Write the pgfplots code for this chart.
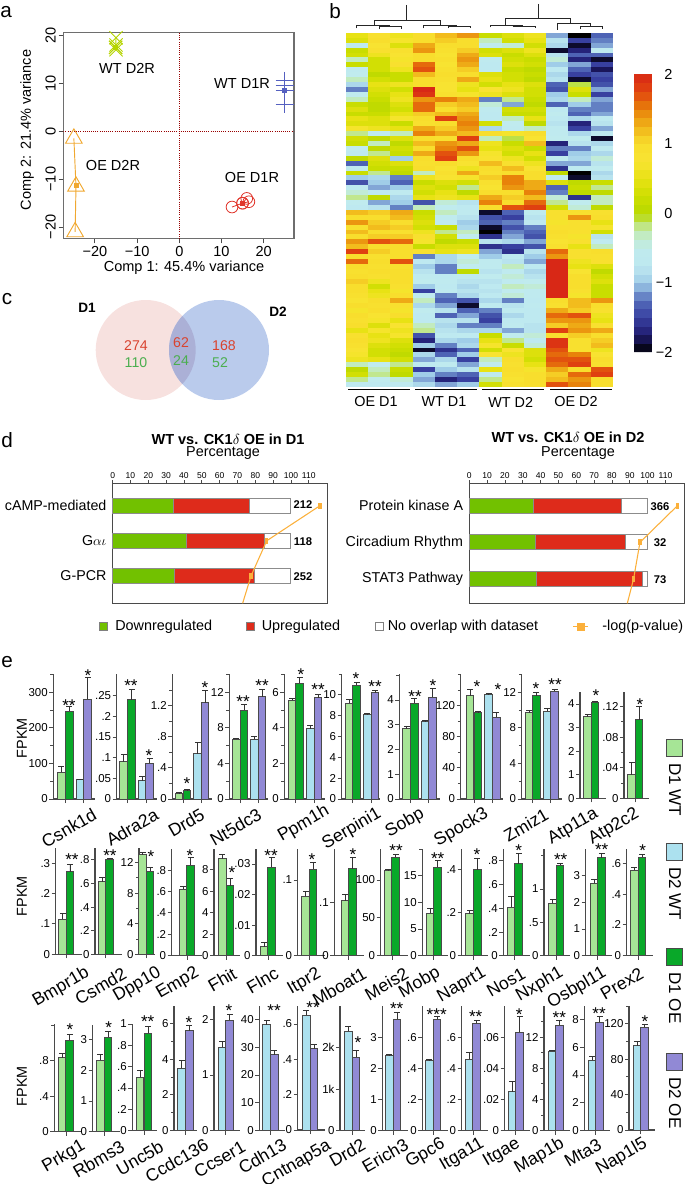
\documentclass[border=0pt]{standalone}
\usepackage{pgfplots}
\pgfplotsset{compat=1.18}
\usepackage{pgfplotstable}
\usepackage{fontspec}
\setmainfont{Liberation Sans}
\newcommand\fs[1]{\fontsize{#1}{#1}\selectfont}
\definecolor{axc}{HTML}{4A4A4A}
\definecolor{lg}{HTML}{A6E596}
\definecolor{dg}{HTML}{09A829}
\definecolor{lb}{HTML}{ACE1EF}
\definecolor{pu}{HTML}{9189D5}
\definecolor{pgreen}{HTML}{72C100}
\definecolor{pred}{HTML}{DE2B1B}
\definecolor{porange}{HTML}{FBB03B}
\definecolor{pcagreen}{HTML}{B5D400}
\definecolor{pcablue}{HTML}{5560C0}
\definecolor{pcared}{HTML}{E0352B}
\definecolor{pcaorange}{HTML}{F0A830}
\definecolor{vpink}{HTML}{F7E1DF}
\definecolor{vblue}{HTML}{BACBEC}
\definecolor{vmix}{HTML}{ABB0D6}
\definecolor{vred}{HTML}{D9432F}
\definecolor{vgreen}{HTML}{4BAE4F}
\pgfplotsset{colormap={heat}{
 rgb255=(0,0,0) rgb255=(32,28,112) rgb255=(56,64,160) rgb255=(84,108,186)
 rgb255=(160,205,232) rgb255=(190,232,240) rgb255=(192,235,238) rgb255=(195,235,180)
 rgb255=(184,216,0) rgb255=(205,222,0) rgb255=(232,226,20) rgb255=(248,228,50)
 rgb255=(248,222,45) rgb255=(240,180,25) rgb255=(232,130,10) rgb255=(225,70,15)
 rgb255=(216,40,22)}}
\pgfdeclareplotmark{cell}{\pgfpathrectangle{\pgfqpoint{-8.45pt}{-1.95pt}}{\pgfqpoint{16.9pt}{3.9pt}}\pgfusepathqfill}
\pgfdeclareplotmark{pv}{\pgfpathrectangle{\pgfqpoint{-1.3pt}{-2.3pt}}{\pgfqpoint{2.6pt}{4.6pt}}\pgfusepathqfill}

% rows top to bottom, columns OE D1, WT D1, WT D2, OE D2
\pgfplotstableread{
c0 c1 c2 c3 c4 c5 c6 c7 c8 c9 c10 c11
.5 .9 .6 1 1.2 1.4 .2 .4 .6 -1.1 -2 -1.3
.4 1 .7 1 1.1 1 -.3 .3 .5 -.8 -1.5 -1.2
-.7 .8 .4 1.3 1 1 -.6 -.4 .3 -.9 -1.9 -1.1
.2 .9 .9 1.4 .9 1.1 .3 .4 .6 -1.9 -1.7 -.6
.3 .6 .8 1 .8 1.3 .4 .2 .4 -.8 -1.3 -1.3
-.3 .3 .7 1 .9 1.4 -.6 .3 .2 -.4 -1.7 -1.9
.2 .3 .9 1.6 .8 1.3 -.7 .4 .3 -1 -1.1 -1.5
-.6 .3 .6 1.7 .9 1.1 -.7 .2 .1 -.7 -1.3 -1.8
-.5 .1 .2 1.2 1 1 .4 .3 .2 -.9 -1.5 -1.4
-.3 .3 .2 1 .9 1.3 .5 .3 .1 -.8 -1.9 -1.5
-.9 .5 .6 1 .8 .6 .3 .5 .4 -1.3 -.1 -1.4
-1.2 .4 .3 2 .8 .5 .8 .6 .3 -1.4 .4 -1.1
-.5 .3 .5 1.9 .9 .7 .6 .4 .3 -1 .2 -1.5
-.3 .2 .6 1.4 1.5 1.3 -1.2 -.2 .2 -.9 -.3 -1.1
.2 .1 .4 1.6 1.1 1.2 -.4 -1.1 .1 -1.3 -1 -1.2
.4 .1 .3 1.6 1 1.1 -.6 .3 .3 -.7 -1.2 -1.2
.2 .2 .5 1.1 1.2 1.3 -.7 .2 .2 -.5 -1.3 -1.1
.5 .4 .7 1 1.8 1.4 -.7 -.3 .5 -.7 -.9 -.7
.4 .4 .2 .9 1 1.5 .3 -.5 .1 -.8 -1.7 -.8
.7 .6 .5 1.3 1.1 1.4 -.9 -.6 -.3 -.6 -1.5 -1.1
-.2 -.6 -.3 1.5 1.3 1.2 1 .7 1 -.6 -.9 -.7
.3 .1 .4 1 .9 1.8 -.3 -.1 .8 -.5 -.5 -1.9
.2 -.3 .1 1.2 1.4 1.3 .6 .2 1.2 -1.7 -.8 -.9
-.5 .1 .3 1 1.5 1.7 .5 .4 .2 -1.2 -1.2 -.6
-.7 -.2 .2 1.3 1.7 1.4 .7 .3 .5 -1.5 -1 -.9
.1 .4 -1 1 1.8 1 .8 .6 .3 -.5 -.9 -.4
-1.3 .3 .4 .9 1 .8 1.2 .9 .6 -1.1 -1.1 -.8
-.6 .2 .2 1 .8 .6 1 1.2 .8 -1.6 -.6 -.5
.2 -.2 .1 -.3 .9 1.3 .9 1 1 .1 -2 -.9
-1 -.9 -1.2 .6 .8 .7 1.1 1.5 1 -.6 -1.9 -.8
-1.4 -1 -1.3 .2 .4 .3 .9 1.5 1.3 .4 .1 .2
-.7 -1.1 -1 .4 .3 -.2 .8 1.4 1.3 -1.3 .2 -.2
-.4 -.7 -.6 .3 .5 .1 1 1 1.5 -1.2 .1 .1
-.2 .1 -.9 .5 .6 .5 1.3 1.1 1.2 -.4 -1.6 -.3
-.5 -1.1 -1 -1.4 -.4 -.8 1.5 1 1.6 -.2 -.5 -.3
-.7 -.8 -1.2 -.3 -.5 -.7 1 1.7 1.8 .3 -.4 .1
1.2 1.1 1.3 .2 -.3 -.6 -1.9 -1.3 -.6 .9 .9 .9
1 1 1.2 .3 -.5 -.8 -1.4 -1.5 -.8 .9 1.4 1
1.4 1.1 1 .4 -.6 -1 -1.3 -1.2 -.7 .7 .9 .5
.9 1.2 1.1 .3 .2 -.9 -1.9 -1.4 -1.2 .9 .9 .7
1.2 1 .9 .6 -.2 -.3 -2 -1.2 -1.3 1 .9 .3
1 1.1 1.1 .9 .3 -.5 -1.6 -1.1 -1.4 .9 .7 -.8
1.4 1.7 1.6 .7 .1 .2 -.8 -.9 -1.1 .8 .9 -.6
1.2 1 1 .2 .4 .4 -1.6 -1.5 -1.4 .9 .5 -.3
1.8 1.1 1 .9 .5 .6 -1.1 -1.6 -.8 1.6 .9 1
1 .9 1 -1.2 -.9 -.5 -1 -.7 -1 1.4 .9 .9
1.6 1 1.7 -.7 -.9 -.4 -.6 -.8 -1.1 2 .6 .9
1 .9 .9 -1 -1.2 -.5 -.6 -.3 -.7 2 .5 .4
.9 1 1 -.8 -1.2 .1 -.8 -.6 -.9 2 .8 .1
1 .9 1 -.6 -.7 -.7 -.5 -.4 -.8 2 1 .3
1.1 .6 1 -.5 -.6 -.8 -.8 -.6 -.5 2 1 .4
1 .3 .9 -1 -.7 -.9 -.7 -.3 -.4 2 1 .2
1 .5 .7 -1.5 -.6 -.8 -.8 -.5 -.6 2 .9 .2
.9 .6 1 -.6 -1.2 -.9 -.7 -.4 -.6 2 .7 .2
.8 1 1.3 -.3 -1.3 -1.4 -.9 -1.2 -.7 1 1.2 1.4
1 .9 .9 -.9 -1.1 -1.9 -.6 -.8 -.6 .9 1.2 1
.7 1 .7 -.5 -.8 -1.3 -1.2 -.6 -.7 1.3 1.1 .9
1 .8 1 -.7 -1.3 -1.1 -1.4 -.9 -.7 1.6 1.7 .6
.9 .7 .5 -.7 -.8 -.8 -1.5 -.7 -.7 1.4 1.4 .5
1 .4 .8 -.3 -.9 -1.2 -1.2 -.6 -.8 1.1 1.3 .9
.5 .7 .6 -.2 -.8 -.9 -.9 -1.1 -.8 1.8 1.4 1.3
.9 .5 .7 -1.4 -.7 -.6 .2 -.5 -.4 .9 1.1 1
1 .6 .4 -1.7 -.9 -1 .5 -.2 -.7 1.9 .9 1.1
.9 .4 .3 -1 -1.2 -.9 .7 .2 -.4 1.9 .9 1.2
.8 .3 .2 -1.9 -1.6 -1.3 .3 .8 .4 1.7 .9 .6
.7 .3 .1 -.9 -1.3 -1 .8 .6 .4 1.6 1.5 .8
.6 .5 .3 -1.1 -.9 -1.5 -.3 1 .3 1.7 1.7 1
-.3 -.5 -.2 -.7 -.6 -1.1 -.6 .9 .5 1.6 1.8 .9
.1 -.3 .2 -1.5 -1 -.8 .5 1 .7 1.3 1 1.7
.3 -.2 .1 -1 -1.2 -1.3 -.7 .9 1 1.1 1.6 1.8
-.2 -.5 -.4 -1.1 -1.7 -1.5 -.2 .8 1 1.2 1.4 1
-.7 -.7 -.7 -.9 -1.1 -1 .3 .9 1 1.7 1.5 1
}\heat

\pgfplotsset{
 pathway/.style={scale only axis,width=161.25pt,height=90pt,xmin=0,xmax=120.6,
  y dir=reverse,clip=false,xtick={0,10,...,110},xtick pos=upper,xticklabel pos=upper,
  ytick={0,1,2},ytick style={draw=none},tick align=outside,
  major tick length=2.5pt,tick style={axc,line width=.6pt},axis line style={axc,line width=.9pt},
  x tick label style={font=\fs{6.4},inner sep=1pt},y tick label style={font=\fs{10.7},inner sep=2pt},
  /pgf/number format/assume math mode=true},
 gene/.style={scale only axis,axis x line=bottom,axis y line=left,
  axis line style={-,draw=axc,line width=.9pt},xticklabels={},ymin=0,clip=false,
  tick align=outside,major tick length=3pt,minor tick length=2.2pt,tick style={axc,line width=.7pt},
  scaled y ticks=false,y tick label style={font=\fs{8.6},inner sep=1pt},
  /pgf/number format/fixed,/pgf/number format/precision=3,/pgf/number format/skip 0.=true,
  /pgf/number format/assume math mode=true},
 gbar/.style={ybar,bar shift=0pt,bar width=5.8pt,draw=axc,line width=.7pt,forget plot,
  error bars/y dir=plus,error bars/y explicit,error bars/error bar style={black!80,line width=.7pt},
  error bars/error mark options={rotate=90,mark size=2.2pt,line width=.7pt,black!80}}
}
% x0 x1 top base in page pixels, then ymax, major ticks, bars
\newcommand\gene[8][]{%
 \pgfmathsetmacro\gw{(#3-#2)*.75}\pgfmathsetmacro\gh{(#5-#4)*.75}%
 \pgfmathsetmacro\gx{#2*.75}\pgfmathsetmacro\gy{-#5*.75}%
 \begin{axis}[gene,at={(\gx pt,\gy pt)},anchor=south west,width=\gw pt,height=\gh pt,
  xmin=#2,xmax=#3,ymax=#6,ytick={#7},#1]
 #8
 \end{axis}}
\newcommand\B[4]{\addplot[fill=#1,gbar] coordinates {(#2,#3) +- (0,#4)};}

\begin{document}
\begin{tikzpicture}[x=.75pt,y=-.75pt]
% ---------- panel letters
\foreach \x/\y/\t in {6/12/a,335/11/b,7/299/c,7/440/d,7/662/e}
  \node[font=\fs{15.5},inner sep=0] at (\x,\y) {\t};

% ---------- a
\begin{axis}[at={(47.5pt,-179pt)},anchor=south west,scale only axis,width=173pt,height=154.8pt,
  xmin=-27.5,xmax=27.2,ymin=-22.4,ymax=20.65,xtick={-20,-10,0,10,20},ytick={-20,-10,0,10,20},
  xticklabels={−20,−10,0,10,20},yticklabels={−20,−10,0,10,20},
  xtick pos=bottom,ytick pos=left,tick align=outside,major tick length=3.5pt,
  tick style={axc,line width=.7pt},axis line style={axc!80,line width=1.1pt},
  tick label style={font=\fs{10.9}},y tick label style={rotate=90,anchor=south,inner sep=2pt},
  x tick label style={inner sep=2pt}]
 \addplot[red!60!black,densely dotted,line width=.6pt] coordinates {(-27.5,0)(27.2,0)};
 \addplot[red!60!black,densely dotted,line width=.6pt] coordinates {(0,-22.4)(0,20.65)};
 \addplot[pcagreen,line width=.7pt,mark=x,mark size=7pt] coordinates {(-15,19.5)(-15.1,17.5)(-15,18)(-15.1,17.5)(-15,17)};
 \addplot[pcagreen,only marks,mark=square*,mark size=1.5pt] coordinates {(-15.1,17.5)};
 \addplot[pcablue,line width=.7pt,mark=+,mark size=6.8pt] coordinates {(25,10.5)(25,9.5)(25,8.5)(25,5.6)};
 \addplot[pcablue,only marks,mark=square*,mark size=1.5pt] coordinates {(25,8.5)};
 \addplot[pcaorange,line width=.7pt,mark=triangle,mark size=7.2pt] coordinates {(-25,-1.5)(-24.5,-11.5)(-24.7,-21)};
 \addplot[pcaorange,only marks,mark=square*,mark size=1.5pt] coordinates {(-24.5,-11.3)};
 \addplot[pcared,line width=.6pt,mark=o,mark size=4.4pt] coordinates {(12.5,-15.8)(15,-15)(16,-14)(15,-15)(16.5,-14.7)};
 \addplot[pcared,only marks,mark=square*,mark size=1.5pt] coordinates {(15,-15)};
\end{axis}
\begin{scope}[font=\fs{10.9},inner sep=0]
 \node at (127,68) {WT D2R};
 \node at (242,84) {WT D1R};
 \node at (113,165) {OE D2R};
 \node at (252,177) {OE D1R};
 \node at (184,268) {Comp 1: 45.4\% variance};
 \node[rotate=90] at (27,130) {Comp 2: 21.4\% variance};
\end{scope}

% ---------- b
\begin{axis}[at={(259.5pt,-290.25pt)},anchor=south west,scale only axis,width=200.25pt,height=265.5pt,
  xmin=-.5,xmax=11.5,ymin=-.5,ymax=71.5,y dir=reverse,ticks=none,axis line style={draw=none},
  colormap name=heat,point meta min=-2,point meta max=2,colorbar,colorbar sampled,
  colorbar style={samples=33,at={(1.0787,.884)},anchor=north west,width=14pt,height=208.5pt,
   ytick={-2,-1,0,1,2},yticklabels={−2,−1,0,1,2},axis line style={draw=none},major tick length=0pt,
   y tick label style={font=\fs{10.9},anchor=east,xshift=15pt,inner sep=0}}]
 \pgfplotsinvokeforeach{0,...,11}{
  \addplot[scatter,only marks,mark=cell,scatter/use mapped color={fill=mapped color},
   point meta=explicit] table[x expr=#1,y expr=\coordindex,meta=c#1] {\heat};}
\end{axis}
\begin{scope}[xshift=240pt,x=.25pt,y=-.25pt,line width=.6pt,black!85]
 \draw (260,15)--(260,60) (162,75)--(162,60)--(362,60)--(362,75);
 \draw (110,85)--(110,75)--(210,75) (178,88)--(178,80)--(245,80)--(245,88);
 \draw (310,85)--(310,75)--(410,75) (385,85)--(385,78)--(450,78)--(450,85);
 \draw (655,12)--(655,55) (557,75)--(557,55)--(752,55)--(752,70);
 \draw (510,82)--(510,75)--(610,75) (578,78)--(645,78)--(645,85);
 \draw (712,90)--(712,70)--(810,70)--(810,78) (780,88)--(780,78)--(848,78)--(848,88);
 \foreach \a/\b/\c/\t in {85/270/168/OE D1,285/470/372/WT D1,487/673/572/WT D2,690/875/768/OE D2}{
  \draw[line width=1.1pt,black] (\a,1168)--(\b,1168);
  \node[font=\fs{10.8},inner sep=0,black] at (\c,1206) {\t};}
\end{scope}

% ---------- c
\fill[vpink] (145.7,350) circle (37.5pt);
\fill[vblue] (219,350) circle (37.5pt);
\begin{scope}
 \clip (145.7,350) circle (37.5pt);
 \fill[vmix] (219,350) circle (37.5pt);
\end{scope}
\begin{scope}[inner sep=0,font=\fs{10.6}]
 \node[font=\fs{10.2}\bfseries] at (87,308) {D1};
 \node[font=\fs{10.2}\bfseries] at (278,312) {D2};
 \node[vred] at (136,346) {274};
 \node[vgreen] at (136,363) {110};
 \node[vred] at (181,343) {62};
 \node[vgreen] at (181,361) {24};
 \node[vred] at (224,346) {168};
 \node[vgreen] at (220,363) {52};
\end{scope}

% ---------- d
\begin{axis}[pathway,at={(84.5pt,-452.5pt)},anchor=south west,ymin=-.635,ymax=2.78,
  yticklabels={cAMP-mediated,G{\fs{10}$\alpha\iota$},G-PCR},
  xbar stacked,bar width=11.25pt]
 \addplot[fill=pgreen,draw=black!45,line width=.7pt] coordinates {(34,0)(41.3,1)(34.8,2)};
 \addplot[fill=pred,draw=black!45,line width=.7pt] coordinates {(42.6,0)(44.1,1)(45,2)};
 \addplot[fill=white,draw=black!45,line width=.7pt] coordinates {(23.4,0)(14.6,1)(20.2,2)};
\end{axis}
\begin{axis}[scale only axis,width=161.25pt,height=90pt,at={(84.5pt,-452.5pt)},anchor=south west,
  hide axis,xmin=0,xmax=120.6,ymin=-.635,ymax=2.78,y dir=reverse]
 \addplot[porange,line width=.8pt] coordinates {(116.3,0)(86.4,1)(77.6,2)(72.9,2.78)};
 \addplot[porange,only marks,mark=pv] coordinates {(116.3,0)(86.4,1)(77.6,2)};
\end{axis}
\begin{axis}[pathway,at={(352pt,-452.5pt)},anchor=south west,ymin=-.61,ymax=2.66,
  yticklabels={Protein kinase A,Circadium Rhythm,STAT3 Pathway},
  xbar stacked,bar width=11.25pt]
 \addplot[fill=pgreen,draw=black!45,line width=.7pt] coordinates {(36.1,0)(37.1,1)(37.8,2)};
 \addplot[fill=pred,draw=black!45,line width=.7pt] coordinates {(49.5,0)(50.5,1)(59.4,2)};
 \addplot[fill=white,draw=black!45,line width=.7pt] coordinates {(14.4,0)(12.4,1)(2.8,2)};
\end{axis}
\begin{axis}[scale only axis,width=161.25pt,height=90pt,at={(352pt,-452.5pt)},anchor=south west,
  hide axis,xmin=0,xmax=120.6,ymin=-.61,ymax=2.66,y dir=reverse]
 \addplot[porange,line width=.8pt] coordinates {(116.7,0)(95.7,1)(92.1,2)(88.6,2.66)};
 \addplot[porange,only marks,mark=pv] coordinates {(116.7,0)(95.7,1)(92.1,2)};
\end{axis}
\begin{scope}[inner sep=0]
 \foreach \x/\y/\t in {303/505/212,303/542/118,303/577/252,660/507/366,660/543/32,660/580/73}
  \node[font=\fs{8.4}\bfseries] at (\x,\y) {\t};
 \node[font=\fs{10.9}\bfseries] at (228,439) {WT vs. CK1$\delta$ OE in D1};
 \node[font=\fs{10.8}] at (223,453) {Percentage};
 \node[font=\fs{10.9}\bfseries] at (568,437) {WT vs. CK1$\delta$ OE in D2};
 \node[font=\fs{10.8}] at (578,453) {Percentage};
 \begin{scope}[font=\fs{10.8}]
  \draw[black!50,fill=pgreen,line width=.5pt] (99.5,622.5) rectangle (107,630.5);
  \node[anchor=west] at (115,626.7) {Downregulated};
  \draw[black!50,fill=pred,line width=.5pt] (246,622.5) rectangle (254,630.5);
  \node[anchor=west] at (261.5,626.7) {Upregulated};
  \draw[black!50,fill=white,line width=.5pt] (375,622.5) rectangle (383,630.5);
  \node[anchor=west] at (387.5,626.7) {No overlap with dataset};
  \draw[porange,line width=.8pt] (573,626.7)--(588,626.7);
  \fill[porange] (577,623) rectangle (585,630.5);
  \node[anchor=west] at (602,626.7) {-log(p-value)};
 \end{scope}
\end{scope}

% ---------- e, first row
\gene[xtick={65.2,83.9},minor ytick={50,150,250,350}]{53.3}{95}{674}{799}{351.6}{0,100,200,300}{\B{lg}{61.2}{75}{16}\B{dg}{69.2}{247}{12}\B{lb}{80}{55}{0}\B{pu}{87.8}{280}{62}}
\gene[xtick={127.7,146}]{116.7}{156.7}{674}{799}{.3024}{0,.05,.1,.15,.2,.25}{\B{lg}{123.7}{.09}{.018}\B{dg}{131.7}{.24}{.025}\B{lb}{142.3}{.044}{.01}\B{pu}{149.7}{.087}{.011}}
\gene[xtick={183,201.3},minor ytick={.2,.6,1,1.4}]{172.3}{211.7}{674}{799}{1.607}{0,.4,.8,1.2}{\B{lg}{179}{.065}{.015}\B{dg}{187}{.116}{.004}\B{lb}{197.7}{.58}{.15}\B{pu}{205}{1.24}{.15}}
\gene[xtick={240.2,258.2},minor ytick={2,6,10,14}]{229.3}{268}{674}{799}{14.06}{0,4,8,12}{\B{lg}{236.3}{6.7}{.15}\B{dg}{244}{10}{.65}\B{lb}{254.3}{6.7}{.3}\B{pu}{262}{11.5}{.85}}
\gene[xtick={295.8,314.2},minor ytick={1,3,5,7}]{284.3}{325}{674}{799}{7.03}{0,2,4,6}{\B{lg}{292}{5.55}{.11}\B{dg}{299.7}{6.5}{.33}\B{lb}{310.3}{3.95}{.2}\B{pu}{318}{5.7}{.2}}
\gene[xtick={352.8,371.2},minor ytick={12}]{341.7}{380}{674}{799}{12}{0,2,4,6,8,10}{\B{lg}{349}{9.2}{.4}\B{dg}{356.7}{10.9}{.3}\B{lb}{367.3}{8.1}{.15}\B{pu}{375}{10.2}{.25}}
\gene[xtick={410.5,428.8},minor ytick={5}]{399.3}{440}{674}{799}{5.05}{0,1,2,3,4}{\B{lg}{406.7}{2.83}{.12}\B{dg}{414.3}{3.88}{.19}\B{lb}{425}{3.12}{.05}\B{pu}{432.7}{4.12}{.35}}
\gene[xtick={474,492.5},minor ytick={20,60,100,140,160}]{460.7}{503}{674}{799}{160.7}{0,40,80,120}{\B{lg}{470}{133}{8}\B{dg}{478}{111}{1.7}\B{lb}{488.7}{134}{1.5}\B{pu}{496.3}{105}{6}}
\gene[xtick={532.7,550.8},minor ytick={2,6,10,14}]{521.7}{562}{674}{799}{14.06}{0,4,8,12}{\B{lg}{529}{9.7}{.3}\B{dg}{536.3}{11.6}{.35}\B{lb}{547}{9.9}{.3}\B{pu}{554.7}{12.15}{.2}}
\gene[xtick={591.3}]{580}{606}{691.7}{798.3}{4.52}{0,1,2,3,4}{\B{lg}{587.7}{3.45}{.12}\B{dg}{595}{4.08}{.04}}
\gene[xtick={635.3},minor ytick={.02,.06,.1}]{624}{649}{691.7}{798.3}{.1396}{0,.04,.08,.12}{\B{lg}{631.7}{.031}{.0157}\B{dg}{639}{.103}{.017}}
% second row
\gene[xtick={66.3}]{55.7}{81.7}{848.3}{954.3}{.349}{0,.1,.2,.3}{\B{lg}{62.7}{.115}{.02}\B{dg}{70}{.272}{.025}}
\gene[xtick={105.8}]{95}{121.7}{848.3}{954.3}{.898}{0,.2,.4,.6,.8}{\B{lg}{102}{.615}{.04}\B{dg}{109.7}{.805}{.01}}
\gene[xtick={146.3},minor ytick={2,6,10}]{139}{155}{848.3}{954.3}{13.87}{0,4,8,12}{\B{lg}{142.7}{13}{.35}\B{dg}{150}{10.9}{.5}}
\gene[xtick={187},minor ytick={1}]{171.7}{201.7}{849}{955.7}{.997}{0,.2,.4,.6,.8}{\B{lg}{183.3}{.62}{.03}\B{dg}{190.7}{.845}{.07}}
\gene[xtick={226.2}]{214}{240}{849}{955.7}{9.92}{0,2,4,6,8}{\B{lg}{222.3}{9}{.4}\B{dg}{230}{6.5}{.7}}
\gene[xtick={268}]{256}{283.3}{849}{955.7}{.0349}{0,.01,.02,.03}{\B{lg}{264.3}{.003}{.0014}\B{dg}{271.7}{.029}{.003}}
\gene[xtick={309.3}]{297.7}{325}{849}{955.7}{.141}{0,.1}{\B{lg}{305.7}{.0785}{.006}\B{dg}{313}{.114}{.009}}
\gene[xtick={348.8}]{334.3}{364}{849}{955.7}{.2}{0,.1}{\B{lg}{345}{.103}{.011}\B{dg}{352.7}{.163}{.021}}
\gene[xtick={392}]{380.7}{408}{849}{955.7}{141}{0,50,100}{\B{lg}{388.3}{112}{1.6}\B{dg}{395.7}{130}{3.6}}
\gene[xtick={433.8},minor ytick={20}]{422.3}{448}{849}{955.7}{20}{0,5,10,15}{\B{lg}{430}{8}{.9}\B{dg}{437.7}{16.6}{1.2}}
\gene[xtick={473.5}]{461.7}{488}{849}{955.7}{.496}{0,.2,.4}{\B{lg}{469.7}{.195}{.013}\B{dg}{477.3}{.4}{.054}}
\gene[xtick={514.8}]{503.3}{530}{849}{955.7}{.9}{0,.2,.4,.6,.8}{\B{lg}{511}{.41}{.09}\B{dg}{518.7}{.775}{.09}}
\gene[xtick={556.3},minor ytick={1.5}]{544}{570}{849}{955.7}{1.6}{0,.5,1}{\B{lg}{552.7}{.785}{.06}\B{dg}{560}{1.36}{.025}}
\gene[xtick={597.8}]{585.7}{611.7}{849}{955.7}{4}{0,1,2,3}{\B{lg}{594}{2.72}{.12}\B{dg}{601.7}{3.68}{.16}}
\gene[xtick={638.2}]{626.7}{652.7}{849}{955.7}{.693}{0,.2,.4,.6}{\B{lg}{634.3}{.555}{.02}\B{dg}{642}{.64}{.017}}
% third row
\gene[xtick={66},minor ytick={1.2}]{54.3}{81.7}{1024.3}{1131.7}{1.21}{0,.4,.8}{\B{lg}{62.3}{.835}{.05}\B{dg}{69.7}{1.03}{.07}}
\gene[xtick={104.2}]{92.7}{120}{1025}{1131.7}{3.48}{0,1,2,3}{\B{lg}{100.3}{2.33}{.18}\B{dg}{108}{3.08}{.2}}
\gene[xtick={144}]{132.3}{156.7}{1024}{1130.7}{1}{0,.2,.4,.6,.8,1}{\B{lg}{140}{.5}{.06}\B{dg}{148}{.915}{.065}}
\gene[xtick={185.5},minor ytick={1,3,5}]{174}{196.7}{1006}{1130.7}{6.97}{0,2,4,6}{\B{lb}{181.7}{3.5}{.42}\B{pu}{189.3}{5.6}{.3}}
\gene[xtick={225.8}]{214}{240}{1006}{1130.7}{2.24}{0,1,2}{\B{lb}{222}{1.5}{.1}\B{pu}{229.7}{1.98}{.1}}
\gene[xtick={270.5}]{259.3}{285}{1006}{1130.7}{44.8}{0,10,20,30,40}{\B{lb}{266.7}{38}{1.5}\B{pu}{274.3}{27.3}{1.5}}
\gene[xtick={310.2}]{297.7}{325}{1006}{1130}{.702}{0,.2,.4,.6}{\B{lb}{306.3}{.65}{.025}\B{pu}{314}{.46}{.025}}
\gene[xtick={352.2},yticklabels={0,1k,2k},minor ytick={3}]{340}{365}{1006}{1130.7}{2.99}{0,1,2}{\B{lb}{348.3}{2.39}{.11}\B{pu}{356}{1.76}{.17}}
\gene[xtick={393.2}]{382.3}{408}{1006}{1130.7}{4}{0,1,2,3}{\B{lb}{389.3}{2.4}{.05}\B{pu}{397}{3.57}{.23}}
\gene[xtick={433.2}]{422.3}{448}{1006}{1130.7}{.8}{0,.2,.4,.6}{\B{lb}{429.3}{.45}{.01}\B{pu}{437}{.715}{.02}}
\gene[xtick={473}]{461.7}{488}{1006}{1130.7}{.8}{0,.2,.4,.6}{\B{lb}{469.3}{.46}{.04}\B{pu}{476.7}{.69}{.02}}
\gene[xtick={515.8}]{504.7}{530}{1006}{1130.7}{.08}{0,.02,.04,.06}{\B{lb}{512}{.025}{.0067}\B{pu}{519.7}{.0632}{.0103}}
\gene[xtick={555.7},minor ytick={2,6,10,14}]{544}{570}{1006}{1130.7}{16}{0,4,8,12}{\B{lb}{552}{10.2}{.15}\B{pu}{559.3}{13.5}{.6}}
\gene[xtick={595.8}]{584.3}{610}{1006}{1130.7}{8.96}{0,2,4,6,8}{\B{lb}{592}{5.05}{.3}\B{pu}{599.7}{7.8}{.4}}
\gene[xtick={640.8},minor ytick={20,60,100,140}]{629}{655}{1006}{1130}{140}{0,40,80,120}{\B{lb}{637}{95}{5}\B{pu}{644.7}{116}{3.5}}

\foreach \x/\y/\t in {69/703/**,88/673/*,131/683/**,149/753/*,187/781/*,205/685/*,243/699/**,262/683/**,
 301/672/*,318/687/**,356/676/*,375/684/**,415/694/**,433/683/*,477/684/*,498/687/*,536/686/*,555/682/**,596/693/*,640/702/*,
 72/857/**,110/853/**,151/854/*,190/853/*,232/870/*,271/853/**,312/857/*,353/852/*,396/848/**,437.7/856/**,477/852/*,518.7/848/*,560.7/857/**,601.7/847/**,642.7/848/*,
 70/1027/*,108.7/1025/*,147.7/1019/**,189/1020/*,229/1008/*,274/1008/**,313/1005/**,358/1040/*,396.7/1006/**,436.7/1012/***,475.7/1014/**,519.3/1012/*,559.3/1015/**,599/1011/**,645/1019/*}
 \node[anchor=base,font=\fs{12.8},inner sep=0] at (\x,\y+8) {\t};
\foreach \x/\y/\t in {95/813/Csnk1d,157/813/Adra2a,203/813/Drd5,260/813/Nt5dc3,328/810/Ppm1h,380/813/Serpini1,423/813/Sobp,487/813/Spock3,547/813/Zmiz1,597/813/Atp11a,638/813/Atp2c2,
 88/972/Bmpr1b,125/972/Csmd2,160/972/Dpp10,198/972/Emp2,235/972/Fhit,277/972/Flnc,320/973/Itpr2,365/972/Mboat1,407/972/Meis2,439/972/Mobp,485/972/Naprt1,524/972/Nos1,562/972/Nxph1,605/972/Osbpl11,642/972/Prex2,
 84/1145/Prkg1,123/1145/Rbms3,162/1145/Unc5b,207/1143/Ccdc136,244/1145/Ccser1,285/1143/Cdh13,330/1145/Cntnap5a,364/1143/Drd2,407/1143/Erich3,444/1143/Gpc6,483/1143/Itga11,519/1143/Itgae,563/1143/Map1b,600/1143/Mta3,646/1143/Nap1l5}
 \node[rotate=30,anchor=east,font=\fs{13.2},inner sep=0] at (\x,\y) {\t};
\foreach \y in {738,896,1086}
 \node[rotate=90,font=\fs{10.8},inner sep=0] at (22,\y) {FPKM};
\foreach \a/\c/\t in {739/lg/D1 WT,843/lb/D2 WT,948/dg/D1 OE,1053/pu/D2 OE}{
 \draw[axc,fill=\c,line width=.6pt] (666.7,\a) rectangle (682.7,\a+17);
 \node[rotate=-90,anchor=west,font=\fs{12.8},inner sep=0] at (675,\a+24) {\t};}

\pgfresetboundingbox
\path[use as bounding box] (0,0) rectangle (685,1184);
\end{tikzpicture}
\end{document}
